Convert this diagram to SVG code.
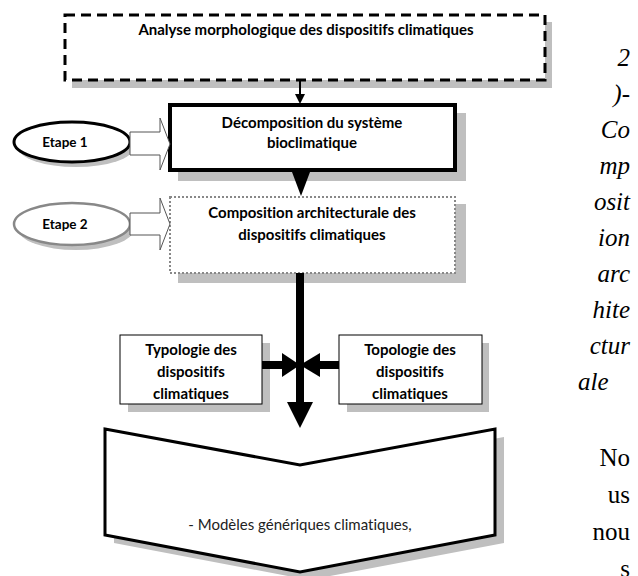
<svg xmlns="http://www.w3.org/2000/svg" width="638" height="576" viewBox="0 0 638 576">
<style>
.lbl{font-family:Lato,"Open Sans","Liberation Sans",sans-serif;font-weight:bold;font-size:15px;fill:#000;text-anchor:middle;font-variant-ligatures:none}
.sm{font-size:13.5px}
.reg{font-family:Lato,"Open Sans","Liberation Sans",sans-serif;font-size:15px;fill:#222;text-anchor:middle;font-variant-ligatures:none}
.side{font-family:"Liberation Serif","Times New Roman",serif;font-size:25px;fill:#000;text-anchor:end}
.side.left{text-anchor:start}
.it{font-style:italic}
.shadow{fill:#bfbfbf;stroke:none}
.box{fill:#fff}
.hollow{fill:#fff;stroke:#555;stroke-width:1}
</style>
<rect width="638" height="576" fill="#fff"/>

<g id="analyse">
<rect class="shadow" x="72" y="22" width="480" height="66"/>
<rect class="box" x="65" y="15" width="480" height="65" stroke="#000" stroke-width="3" stroke-dasharray="10 6"/>
<text class="lbl" x="306" y="35">Analyse morphologique des dispositifs climatiques</text>
</g>

<g id="decomposition">
<rect class="shadow" x="178" y="113" width="288" height="68"/>
<rect class="box" x="170" y="105" width="285" height="65" stroke="#000" stroke-width="4"/>
<text class="lbl" x="312" y="128">Décomposition du système</text>
<text class="lbl" x="312" y="148">bioclimatique</text>
</g>

<g id="composition">
<rect class="shadow" x="178" y="204" width="288" height="79"/>
<rect class="box" x="170" y="197" width="285" height="76" stroke="#888" stroke-width="2" stroke-dasharray="2 2"/>
<text class="lbl" x="312" y="218">Composition architecturale des</text>
<text class="lbl" x="312" y="240">dispositifs climatiques</text>
</g>

<g id="etape1">
<ellipse class="shadow" cx="76" cy="147" rx="58" ry="20"/>
<ellipse cx="72" cy="142" rx="58" ry="20" fill="#fff" stroke="#000" stroke-width="3"/>
<text class="lbl sm" x="65" y="147">Etape 1</text>
</g>

<g id="etape2">
<ellipse class="shadow" cx="76" cy="229" rx="58" ry="21"/>
<ellipse cx="72" cy="224" rx="58" ry="21" fill="#fff" stroke="#888" stroke-width="2.5"/>
<text class="lbl sm" x="65" y="229">Etape 2</text>
</g>

<g id="typologie">
<rect class="shadow" x="128" y="343" width="142" height="69"/>
<rect class="box" x="120" y="335" width="142" height="69" stroke="#000" stroke-width="1"/>
<text class="lbl" x="191" y="355">Typologie des</text>
<text class="lbl" x="191" y="377">dispositifs</text>
<text class="lbl" x="191" y="399">climatiques</text>
</g>

<g id="topologie">
<rect class="shadow" x="347" y="343" width="142" height="69"/>
<rect class="box" x="339" y="335" width="143" height="69" stroke="#000" stroke-width="1"/>
<text class="lbl" x="410" y="355">Topologie des</text>
<text class="lbl" x="410" y="377">dispositifs</text>
<text class="lbl" x="410" y="399">climatiques</text>
</g>

<g id="modeles">
<polygon class="shadow" points="114,437 309,473 504,437 504,543 309,580 114,543"/>
<polygon points="105,429 300,465 495,429 495,535 300,572 105,535" fill="#fff" stroke="#000" stroke-width="3" stroke-linejoin="miter"/>
<text class="reg" x="300" y="530">- Modèles génériques climatiques,</text>
</g>

<g id="connectors">
<line x1="300" y1="80" x2="300" y2="95" stroke="#000" stroke-width="2"/>
<polygon points="295,94 305,94 300,104" fill="#000"/>
<polygon points="292,172 310,172 301,196" fill="#000"/>
<polygon class="hollow" points="130,132 160,132 160,118 170,144 160,170 160,155 130,155"/>
<polygon class="hollow" points="130,213 160,213 160,198 170,224 160,250 160,235 130,235"/>
<rect x="296" y="273" width="8" height="131" fill="#000"/>
<polygon points="287,402 313,402 300,428" fill="#000"/>
<rect x="262" y="361" width="22" height="8" fill="#000"/>
<polygon points="282,353 282,377 300,365" fill="#000"/>
<rect x="318" y="361" width="21" height="8" fill="#000"/>
<polygon points="320,353 320,377 300,365" fill="#000"/>
</g>

<g id="side-text">
<text class="side it" x="630" y="66">2</text>
<text class="side it" x="630" y="102">)-</text>
<text class="side it" x="630" y="138">Co</text>
<text class="side it" x="630" y="174">mp</text>
<text class="side it" x="630" y="210">osit</text>
<text class="side it" x="630" y="246">ion</text>
<text class="side it" x="630" y="282">arc</text>
<text class="side it" x="630" y="318">hite</text>
<text class="side it" x="630" y="354">ctur</text>
<text class="side it left" x="578" y="390">ale</text>
<text class="side" x="630" y="466">No</text>
<text class="side" x="630" y="503">us</text>
<text class="side" x="630" y="540">nou</text>
<text class="side" x="630" y="577">s</text>
</g>
</svg>
